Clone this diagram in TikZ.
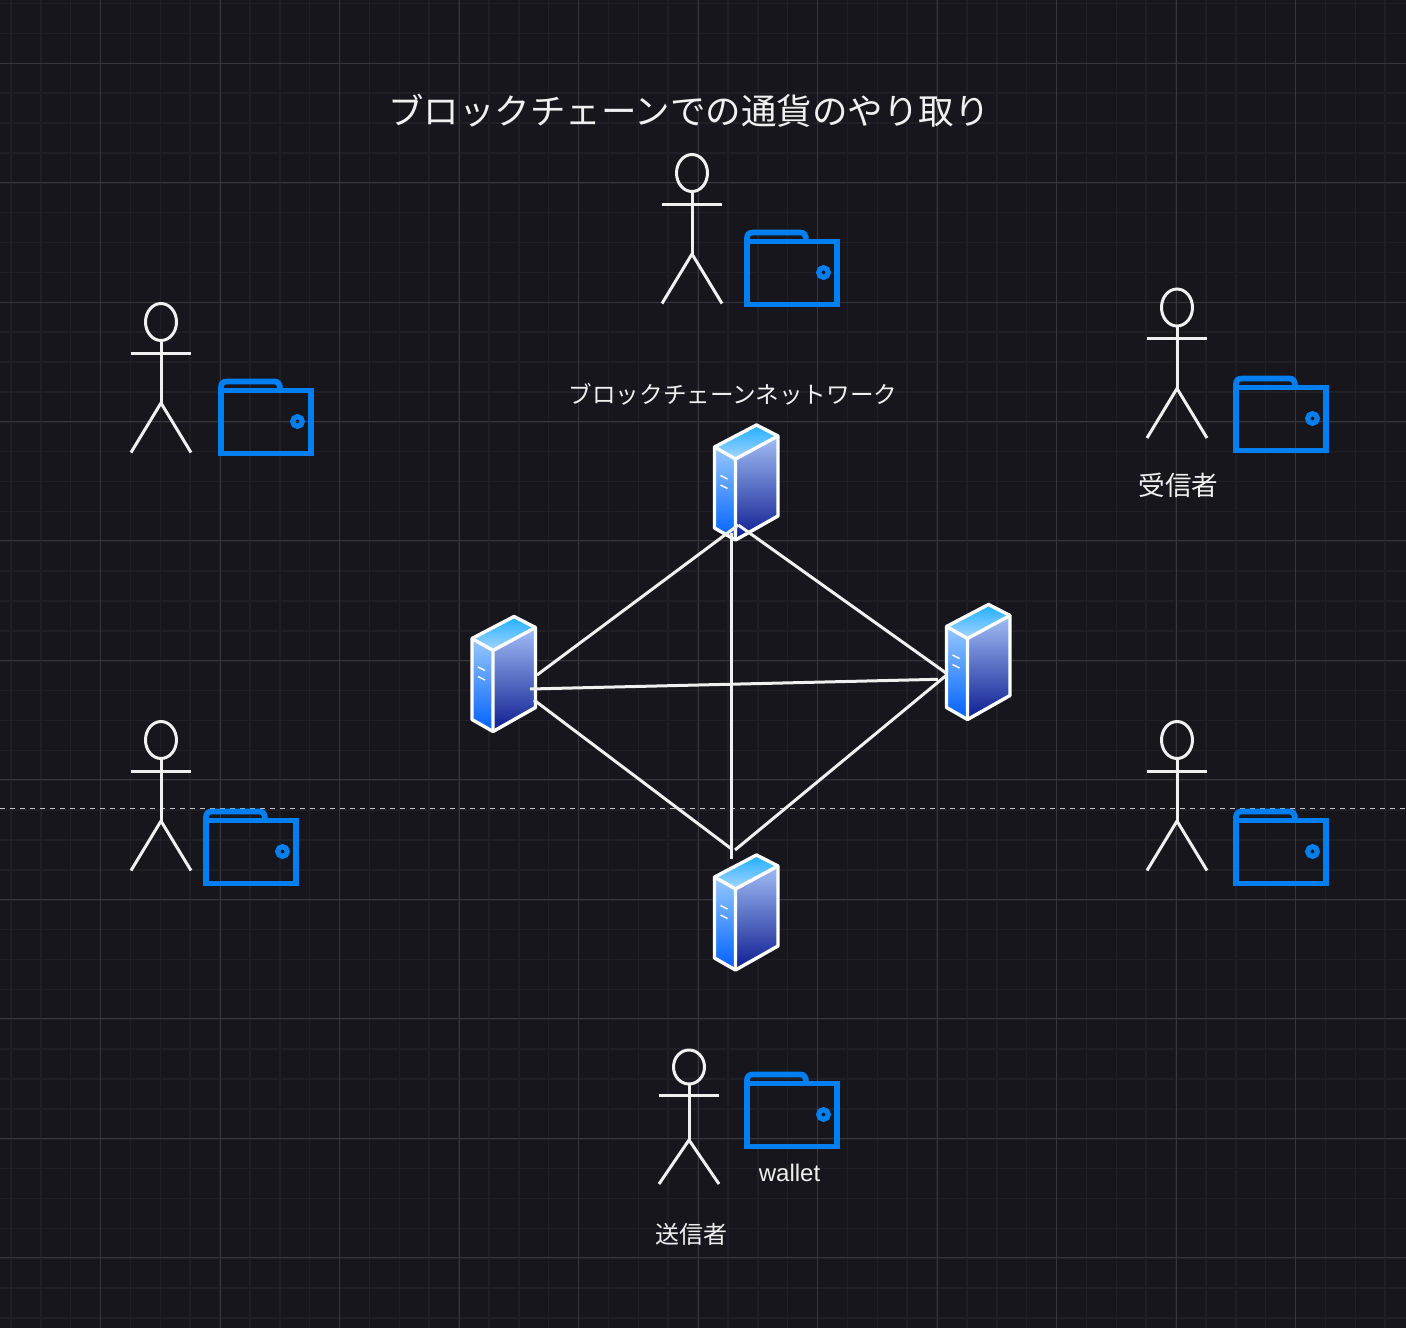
\documentclass[tikz,border=0pt]{standalone}
\usepackage{fontspec}
\setmainfont{Liberation Sans}
\newfontfamily\jp{Noto Sans CJK JP}
\definecolor{bg}{HTML}{17161D}
\definecolor{gridmajor}{HTML}{37363D}
\definecolor{gridminor}{HTML}{201F26}
\definecolor{ink}{HTML}{F0F0F0}
\definecolor{dashink}{HTML}{C4C4C6}
\definecolor{walletblue}{HTML}{007FF0}
\definecolor{topA}{HTML}{1EB0FF}
\definecolor{topB}{HTML}{A8D4FF}
\definecolor{leftA}{HTML}{96C8FF}
\definecolor{leftB}{HTML}{0060FF}
\definecolor{rightA}{HTML}{A2BEF6}
\definecolor{rightB}{HTML}{0C1C90}
\tikzset{
  x=1pt,y=-1pt,
  majorline/.style={draw=gridmajor,line width=1pt},
  minorline/.style={draw=gridminor,line width=1.5pt},
  stickline/.style={draw=ink,line width=3pt},
  linkline/.style={draw=ink,line width=3pt},
  walletline/.style={draw=walletblue,line width=5.8pt},
  faceline/.style={draw=white,line width=3.4pt,line join=round},
  label/.style={text=ink,inner sep=0pt,font=\jp},
  actor/.pic={
    \draw[stickline] (0,-31) ellipse [x radius=15.5,y radius=18.5];
    \draw[stickline] (0,-12.5) -- (0,50) (-30,0) -- (30,0);
    \draw[stickline] (-30,99.5) -- (0,50) -- (30,99.5);
  },
  lowactor/.pic={
    \draw[stickline] (0,-28) ellipse [x radius=15.5,y radius=17];
    \draw[stickline] (0,-11) -- (0,45) (-30,0) -- (30,0);
    \draw[stickline] (-30,89) -- (0,45) -- (30,89);
  },
  wallet/.pic={
    \draw[walletline] (3,75) -- (93,75) -- (93,12) -- (3,12) -- cycle;
    \draw[walletline] (3,12) -- (3,9) .. controls (3,5) and (5,3) .. (9,3)
      -- (56,3) .. controls (60,3) and (62,5) .. (62,11);
    \draw[walletblue,line width=5.2pt] (79.5,43) circle [radius=4.8];
  },
  server/.pic={
    \shade[top color=topA,bottom color=topB] (0,0) -- (21.5,11) -- (-21,34) -- (-42,22) -- cycle;
    \shade[top color=leftA,bottom color=leftB] (-42,22) -- (-21,34) -- (-21,115) -- (-42,103) -- cycle;
    \shade[top color=rightA,bottom color=rightB] (-21,34) -- (21.5,11) -- (21.5,91) -- (-21,115) -- cycle;
    \draw[faceline] (0,0) -- (21.5,11) -- (21.5,91) -- (-21,115) -- (-42,103) -- (-42,22) -- cycle;
    \draw[faceline] (-42,22) -- (-21,34) -- (21.5,11) (-21,34) -- (-21,115);
    \draw[white,line width=1.4pt] (-36,50.5) -- (-29,54) (-36,60) -- (-29,63.5);
  }
}
\begin{document}
\begin{tikzpicture}
\useasboundingbox (0,0) rectangle (1406,1328);
\fill[bg] (0,0) rectangle (1406,1328);
% grid
\foreach \i in {0,...,47} {
  \pgfmathsetmacro{\gx}{10.9+29.875*\i}
  \draw[minorline] (\gx,0) -- (\gx,1328);
}
\foreach \i in {0,...,44} {
  \pgfmathsetmacro{\gy}{3.5+29.875*\i}
  \draw[minorline] (0,\gy) -- (1406,\gy);
}
\foreach \i in {0,...,10} {
  \pgfmathsetmacro{\gx}{100.5+119.5*\i}
  \draw[majorline] (\gx,0) -- (\gx,1328);
  \pgfmathsetmacro{\gy}{63.3+119.42*\i}
  \draw[majorline] (0,\gy) -- (1406,\gy);
}
\coordinate (dashL) at (0,808.5);
\coordinate (dashR) at (1406,808.5);
\draw[draw=dashink,line width=1pt,dash pattern=on 5pt off 5pt] (dashL) -- (dashR);
% servers
\pic (serverT) at (756.5,425) {server};
\pic (serverL) at (514,616.5) {server};
\pic (serverR) at (988.5,604.5) {server};
\pic (serverB) at (756.5,855) {server};
% connector ports
\coordinate (topApex) at (738.3,525);
\coordinate (topFoot) at (731,533);
\coordinate (leftUp) at (537,675);
\coordinate (leftMid) at (530,689);
\coordinate (leftLow) at (534,700);
\coordinate (rightUp) at (946,673);
\coordinate (rightMid) at (938,679.3);
\coordinate (rightLow) at (946.7,675);
\coordinate (botLeft) at (730.7,848.3);
\coordinate (botMid) at (731,859.3);
\coordinate (botRight) at (735,850);
\draw[linkline] (leftUp) -- (topApex);
\draw[linkline] (topApex) -- (rightUp);
\draw[linkline] (topFoot) -- (botMid);
\draw[linkline] (leftMid) -- (rightMid);
\draw[linkline] (leftLow) -- (botLeft);
\draw[linkline] (rightLow) -- (botRight);
% people
\pic (actorTop) at (692,204) {actor};
\pic (actorLeftA) at (161,353) {actor};
\pic (actorRightA) at (1177,338.5) {actor};
\pic (actorLeftB) at (161,771) {actor};
\pic (actorRightB) at (1177,771) {actor};
\pic (actorBottom) at (689,1095) {lowactor};
% wallets
\pic (walletTop) at (744,229.5) {wallet};
\pic (walletLeftA) at (218,378.5) {wallet};
\pic (walletRightA) at (1233,375.5) {wallet};
\pic (walletLeftB) at (203,808.5) {wallet};
\pic (walletRightB) at (1233,808.5) {wallet};
\pic (walletBottom) at (744,1071.5) {wallet};
% labels
\node[label,font=\jp\fontsize{35.5}{40}\selectfont] (title) at (689,110.7) {ブロックチェーンでの通貨のやり取り};
\node[label,font=\jp\fontsize{23.6}{28}\selectfont] (network) at (733,394) {ブロックチェーンネットワーク};
\node[label,font=\jp\fontsize{26.6}{30}\selectfont] (receiver) at (1178.3,485) {受信者};
\node[label,font=\jp\fontsize{24}{28}\selectfont] (sender) at (691.3,1234) {送信者};
\node[label,font=\rmfamily\fontsize{24}{28}\selectfont] (walletText) at (789.5,1173) {wallet};
\end{tikzpicture}
\end{document}
